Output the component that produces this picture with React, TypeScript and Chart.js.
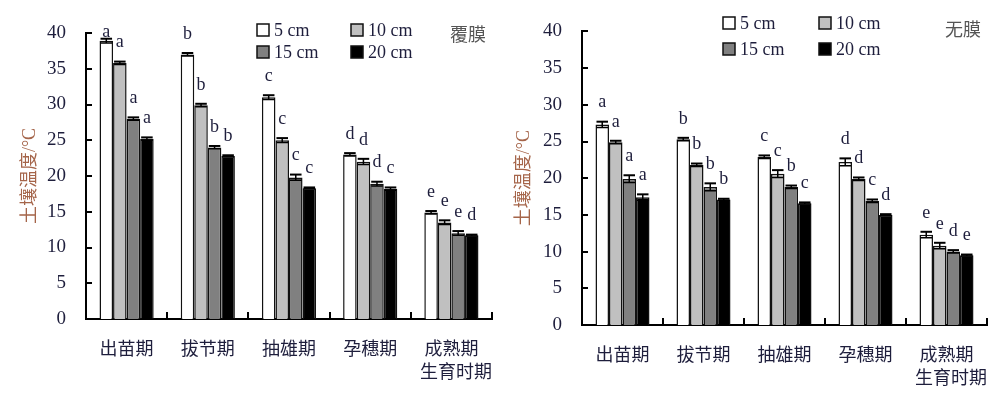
import React, { useEffect, useRef } from 'react';
import { Chart, registerables } from 'chart.js';

Chart.register(...registerables);

// ---------- data ----------
const categories = ['出苗期', '拔节期', '抽雄期', '孕穗期', '成熟期'];
const depthLabels = ['5 cm', '10 cm', '15 cm', '20 cm'];
const xAxisTitle = '生育时期';
const yAxisTitle = '土壤温度/°C';

// 覆膜 (mulched)
const mulch5 = [38.9, 37.0, 31.0, 23.0, 14.9];
const mulch10 = [35.8, 29.9, 25.0, 22.0, 13.5];
const mulch15 = [28.0, 24.0, 19.8, 18.9, 12.0];
const mulch20 = [25.2, 22.8, 18.3, 18.2, 11.7];
const mulchErr5 = [0.3, 0.2, 0.3, 0.2, 0.2];
const mulchErr10 = [0.2, 0.2, 0.3, 0.4, 0.3];
const mulchErr15 = [0.2, 0.2, 0.4, 0.3, 0.3];
const mulchErr20 = [0.2, 0.1, 0.1, 0.2, 0.1];
const mulchSig5 = ['a', 'b', 'c', 'd', 'e'];
const mulchSig10 = ['a', 'b', 'c', 'd', 'e'];
const mulchSig15 = ['a', 'b', 'c', 'd', 'e'];
const mulchSig20 = ['a', 'b', 'c', 'c', 'd'];

// 无膜 (no mulch)
const bare5 = [27.3, 25.3, 22.9, 22.2, 12.3];
const bare10 = [24.9, 21.8, 20.6, 19.9, 10.8];
const bare15 = [19.9, 18.8, 18.8, 16.9, 10.0];
const bare20 = [17.4, 17.1, 16.6, 15.0, 9.5];
const bareErr5 = [0.4, 0.2, 0.2, 0.5, 0.4];
const bareErr10 = [0.2, 0.2, 0.5, 0.2, 0.4];
const bareErr15 = [0.5, 0.5, 0.2, 0.2, 0.2];
const bareErr20 = [0.4, 0.1, 0.1, 0.1, 0.1];
const bareSig5 = ['a', 'b', 'c', 'd', 'e'];
const bareSig10 = ['a', 'b', 'c', 'd', 'e'];
const bareSig15 = ['a', 'b', 'b', 'c', 'd'];
const bareSig20 = ['a', 'b', 'c', 'd', 'e'];

// ---------- style ----------
const FILLS = ['#ffffff', '#c0c0c0', '#808080', '#000000'];
const SERIF = '"Liberation Serif", "Times New Roman", "Noto Sans CJK SC", serif';
const TEXT = '#1e1e3c';

type Layout = {
  padTop: number;
  padRight: number;
  yWidth: number;
  xHeight: number;
  xLabelPad: number;
  xTitlePad: number;
  yTitlePad: number;
  legendX: number[];
  legendY: number[];
  nameX: number;
  nameY: number;
};

type Panel = {
  name: string;
  series: number[][];
  errors: number[][];
  letters: string[][];
  layout: Layout;
};

const panels: Panel[] = [
  {
    name: '覆膜',
    series: [mulch5, mulch10, mulch15, mulch20],
    errors: [mulchErr5, mulchErr10, mulchErr15, mulchErr20],
    letters: [mulchSig5, mulchSig10, mulchSig15, mulchSig20],
    layout: {
      padTop: 33, padRight: 8, yWidth: 86, xHeight: 75,
      xLabelPad: 20, xTitlePad: 10, yTitlePad: 19,
      legendX: [257, 351], legendY: [30, 52],
      nameX: 450, nameY: 34,
    },
  },
  {
    name: '无膜',
    series: [bare5, bare10, bare15, bare20],
    errors: [bareErr5, bareErr10, bareErr15, bareErr20],
    letters: [bareSig5, bareSig10, bareSig15, bareSig20],
    layout: {
      padTop: 26, padRight: 13, yWidth: 82, xHeight: 69,
      xLabelPad: 20, xTitlePad: 4, yTitlePad: 13,
      legendX: [223, 319], legendY: [23, 49],
      nameX: 445, nameY: 29,
    },
  },
];

function buildChart(canvas: HTMLCanvasElement, panel: Panel) {
  const L = panel.layout;
  const datasets = depthLabels.map((lab, i) => ({
    label: lab,
    data: panel.series[i],
    backgroundColor: FILLS[i],
    borderColor: '#111111',
    borderWidth: 1.5,
    borderSkipped: 'start' as const,
    categoryPercentage: 0.667,
    barPercentage: 1,
  }));

  const decor = {
    id: 'decor',
    afterDatasetsDraw(chart: any) {
      const ctx = chart.ctx as CanvasRenderingContext2D;
      const y = chart.scales.y;
      const area = chart.chartArea;
      ctx.save();
      datasets.forEach((ds, i) => {
        const meta = chart.getDatasetMeta(i);
        meta.data.forEach((bar: any, j: number) => {
          const v = ds.data[j];
          const e = panel.errors[i][j];
          const yt = y.getPixelForValue(v + e);
          const yb = y.getPixelForValue(v - e);
          const half = bar.width / 2 - 1;
          ctx.strokeStyle = '#000';
          ctx.lineWidth = 1.5;
          ctx.beginPath();
          ctx.moveTo(bar.x, yt);
          ctx.lineTo(bar.x, yb);
          ctx.moveTo(bar.x - half, yb);
          ctx.lineTo(bar.x + half, yb);
          ctx.stroke();
          ctx.lineWidth = 2;
          ctx.beginPath();
          ctx.moveTo(bar.x - half, yt);
          ctx.lineTo(bar.x + half, yt);
          ctx.stroke();
          ctx.fillStyle = TEXT;
          ctx.font = `18px ${SERIF}`;
          ctx.textAlign = 'center';
          ctx.textBaseline = 'middle';
          ctx.fillText(panel.letters[i][j], bar.x, Math.max(yt - 19, area.top - 1));
        });
      });
      ctx.restore();
    },
    afterDraw(chart: any) {
      const ctx = chart.ctx as CanvasRenderingContext2D;
      const x = chart.scales.x;
      const y = chart.scales.y;
      const area = chart.chartArea;
      ctx.save();
      ctx.strokeStyle = '#000';
      ctx.lineWidth = 2;
      ctx.beginPath();
      // inward y ticks
      y.ticks.forEach((t: any) => {
        const py = Math.round(y.getPixelForValue(t.value));
        ctx.moveTo(area.left, py);
        ctx.lineTo(area.left + 6, py);
      });
      // inward x ticks at category boundaries
      const n = categories.length;
      for (let j = 0; j < n; j++) {
        const bx = j < n - 1
          ? (x.getPixelForValue(j) + x.getPixelForValue(j + 1)) / 2
          : area.right;
        ctx.moveTo(Math.round(bx), area.bottom);
        ctx.lineTo(Math.round(bx), area.bottom - 7);
      }
      ctx.stroke();

      // legend
      ctx.font = `18px ${SERIF}`;
      ctx.textAlign = 'left';
      ctx.textBaseline = 'middle';
      datasets.forEach((ds, i) => {
        const bx = L.legendX[i % 2];
        const by = L.legendY[Math.floor(i / 2)];
        ctx.fillStyle = ds.backgroundColor;
        ctx.fillRect(bx, by - 6, 12, 12);
        ctx.strokeStyle = '#111';
        ctx.lineWidth = 1.5;
        ctx.strokeRect(bx, by - 6, 12, 12);
        ctx.fillStyle = TEXT;
        ctx.fillText(ds.label, bx + 17, by + 1);
      });

      // panel name
      ctx.fillStyle = '#555555';
      ctx.font = `18px "Noto Sans CJK SC", ${SERIF}`;
      ctx.fillText(panel.name, L.nameX, L.nameY);
      ctx.restore();
    },
  };

  return new Chart(canvas, {
    type: 'bar',
    data: { labels: categories, datasets },
    options: {
      animation: false,
      responsive: false,
      maintainAspectRatio: false,
      layout: { padding: { left: 0, right: L.padRight, top: L.padTop, bottom: 0 } },
      plugins: { legend: { display: false }, tooltip: { enabled: false } },
      scales: {
        x: {
          grid: { display: false, drawTicks: false },
          border: { display: true, color: '#000', width: 2 },
          ticks: { font: { size: 18, family: SERIF }, color: TEXT, padding: L.xLabelPad },
          title: {
            display: true,
            text: xAxisTitle,
            align: 'end',
            color: TEXT,
            font: { size: 18, family: SERIF },
            padding: { top: 0, bottom: L.xTitlePad },
          },
          afterFit: (s: any) => { s.height = L.xHeight; },
        },
        y: {
          min: 0,
          max: 40,
          grid: { display: false, drawTicks: false },
          border: { display: true, color: '#000', width: 2 },
          ticks: { stepSize: 5, font: { size: 19, family: SERIF }, color: TEXT, padding: 20 },
          title: {
            display: true,
            text: yAxisTitle,
            color: '#a5654a',
            font: { size: 18, family: SERIF },
            padding: { top: L.yTitlePad, bottom: 0 },
          },
          afterFit: (s: any) => { s.width = L.yWidth; },
        },
      },
    },
    plugins: [decor],
  } as any);
}

function Panel({ panel, left }: { panel: Panel; left: number }) {
  const ref = useRef<HTMLCanvasElement>(null);
  useEffect(() => {
    if (!ref.current) return;
    const chart = buildChart(ref.current, panel);
    return () => chart.destroy();
  }, [panel]);
  return (
    <canvas
      ref={ref}
      width={500}
      height={394}
      style={{ position: 'absolute', left, top: 0, width: 500, height: 394 }}
    />
  );
}

export default function App() {
  return (
    <div style={{ position: 'fixed', left: 0, top: 0, width: 1000, height: 394, background: '#fff' }}>
      <Panel panel={panels[0]} left={0} />
      <Panel panel={panels[1]} left={500} />
    </div>
  );
}
